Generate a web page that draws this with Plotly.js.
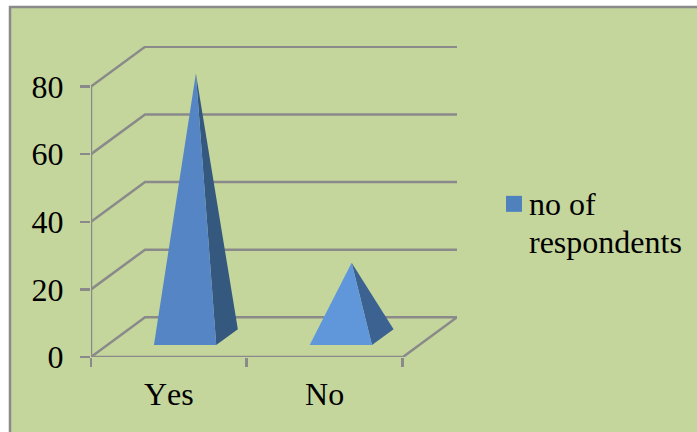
<!DOCTYPE html>
<html>
<head>
<meta charset="utf-8">
<script src="https://cdn.plot.ly/plotly-3.0.1.min.js"></script>
<style>html,body{margin:0;padding:0;background:#fff;overflow:hidden} svg text{font-kerning:none}</style>
</head>
<body>
<div id="chart" style="width:697px;height:432px"></div>
<script>
// Survey responses
const categories = ["Yes", "No"];
const respondents = [78, 22];
const seriesLines = ["no of", "respondents"];
const valueTicks = [0, 20, 40, 60, 80];
const frontColors = ["#5585C5", "#5F97DA"];
const sideColors = ["#35587F", "#3B6290"];

// Oblique projection of the 3D box, in axis units
const depthX = 0.347;
const depthY = 11.75;
const xMax = 2.35;
const yMax = 92;
const project = (cat, value, depth) => [cat + depth * depthX, value + depth * depthY];

const polyline = (pts) => ({x: pts.map(p => p[0]), y: pts.map(p => p[1])});
const GRID = "#8A8A8A";
const FONT = "'Liberation Serif', serif";
const wallLine = {
  type: "scatter", mode: "lines", cliponaxis: false,
  line: {color: GRID, width: 2.5}, showlegend: false, hoverinfo: "skip"
};

const traces = [];

// Side-wall and back-wall gridlines for each value tick; the floor is a closed outline
valueTicks.forEach(v => {
  const path = v === 0
    ? [project(0, 0, 0), project(0, 0, 1), project(xMax - depthX, 0, 1), project(xMax - depthX, 0, 0), project(0, 0, 0)]
    : [project(0, v, 0), project(0, v, 1), project(xMax - depthX, v, 1)];
  traces.push(Object.assign(polyline(path), wallLine));
});

// Value axis line
traces.push(Object.assign(polyline([[0, 0], [0, valueTicks[valueTicks.length - 1]]]), wallLine));

// One pyramid per category: front face and right-hand face
const halfWidth = 0.2;
const baseFront = 0.3, baseBack = 0.7;
categories.forEach((c, i) => {
  const centre = i + 0.5;
  const apex = project(centre, respondents[i], 0.5);
  const fl = project(centre - halfWidth, 0, baseFront);
  const fr = project(centre + halfWidth, 0, baseFront);
  const br = project(centre + halfWidth, 0, baseBack);
  traces.push(Object.assign(polyline([apex, fr, br, apex]), {
    type: "scatter", mode: "lines", fill: "toself", fillcolor: sideColors[i],
    line: {width: 0, color: sideColors[i]}, showlegend: false, hoverinfo: "skip"
  }));
  traces.push(Object.assign(polyline([apex, fl, fr, apex]), {
    type: "scatter", mode: "lines", fill: "toself", fillcolor: frontColors[i],
    line: {width: 0, color: frontColors[i]}, showlegend: false, hoverinfo: "skip"
  }));
});

const W = 697, H = 432;
const L = 91, R = 457, T = 46, B = 357.3;
const pw = R - L, ph = B - T;
const px = v => (v - L) / pw;
const py = v => (B - v) / ph;

const layout = {
  width: W, height: H,
  margin: {l: L, r: W - R, t: T, b: H - B, pad: 0},
  paper_bgcolor: "#FFFFFF",
  plot_bgcolor: "rgba(0,0,0,0)",
  font: {family: FONT, color: "#000", size: 32},
  hovermode: false,
  showlegend: false,
  xaxis: {
    range: [0, xMax], fixedrange: true, zeroline: false, showgrid: false,
    showline: false, ticks: "", tickmode: "array",
    tickvals: categories.map((c, i) => i + 0.5), ticktext: categories,
    tickfont: {size: 32}, ticklabelstandoff: 15,
    minor: {ticks: "outside", tickmode: "array", tickvals: [0, 1, 2], ticklen: 9, tickwidth: 2.5, tickcolor: GRID, showgrid: false}
  },
  yaxis: {
    range: [0, yMax], fixedrange: true, zeroline: false, showgrid: false,
    showline: false, ticks: "outside", ticklen: 10, tickwidth: 2.5, tickcolor: GRID,
    tickmode: "array", tickvals: valueTicks, tickfont: {size: 32}, ticklabelstandoff: 10
  },
  annotations: seriesLines.map((t, i) => ({
    text: t, xref: "paper", yref: "paper", showarrow: false,
    x: px(529), y: py(204 + i * 38), xanchor: "left", yanchor: "middle",
    align: "left", font: {size: 32, family: FONT, color: "#000"},
    borderpad: 0, borderwidth: 0
  })),
  shapes: [
    // chart background panel and frame
    {type: "rect", xref: "paper", yref: "paper", layer: "below",
     x0: px(10), x1: px(720), y0: py(7), y1: py(460),
     fillcolor: "#C4D69C", line: {color: GRID, width: 2.5}},
    // series key
    {type: "rect", xref: "paper", yref: "paper", layer: "above",
     x0: px(506), x1: px(522), y0: py(196), y1: py(212),
     fillcolor: "#4F81BD", line: {width: 0}}
  ]
};

Plotly.newPlot("chart", traces, layout, {displayModeBar: false, staticPlot: true});
</script>
</body>
</html>
